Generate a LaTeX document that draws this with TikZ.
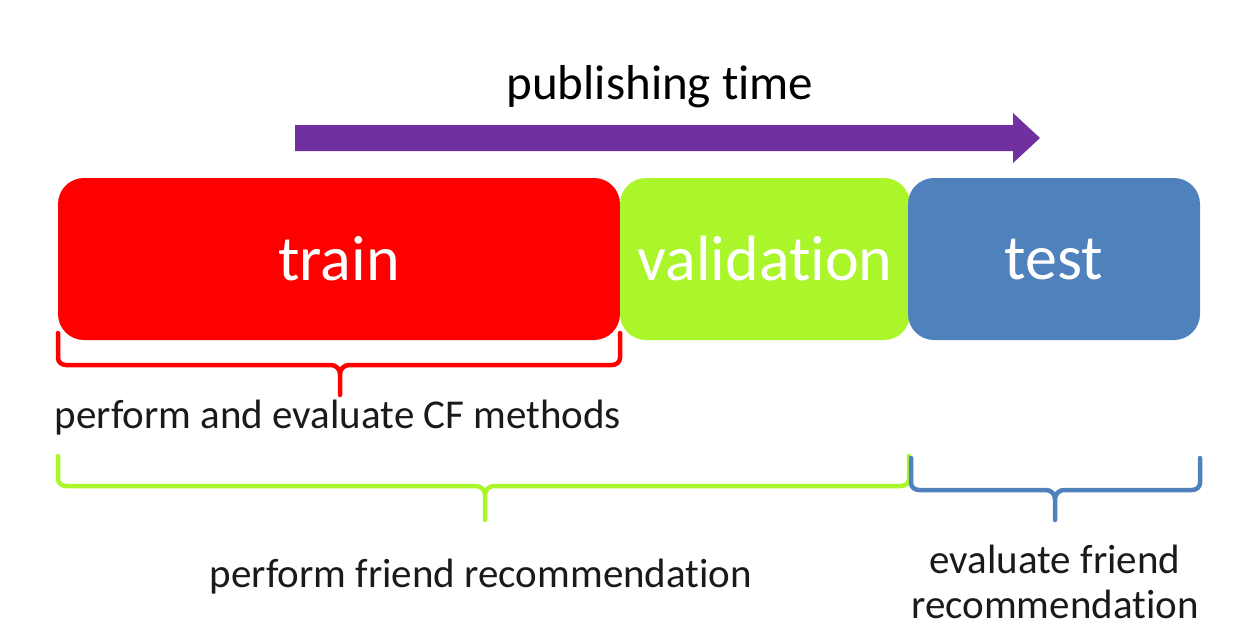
\documentclass[tikz,border=0pt]{standalone}
\usepackage{fontspec}
\setmainfont[Ligatures=NoCommon]{Carlito}
\definecolor{trainred}{HTML}{FF0000}
\definecolor{valgreen}{HTML}{ABF52B}
\definecolor{testblue}{HTML}{4F81BD}
\definecolor{timepurple}{HTML}{7030A0}
\definecolor{labelink}{HTML}{1A1A1A}
\tikzset{
  phase/.style={fill=#1, draw=none, rounded corners=26pt, minimum height=162pt,
    text=white, inner sep=0pt, font=\fontsize{64}{70}\selectfont},
  bracepath/.style={draw=#1, line width=4.5pt, line cap=round, line join=round},
  caption/.style={text=labelink, inner sep=0pt, font=\fontsize{41}{47}\selectfont, align=center}
}
% curly brace: ends at x1 and x2 rising to ytop, bar at ybar, tip at (xm, ytip)
\newcommand{\spanbrace}[7]{%
  \path[bracepath=#1]
    (#2,#5) -- (#2,#6+7) to[out=-90,in=180] (#2+8,#6) -- (#4-9,#6)
    to[out=0,in=90] (#4,#6-9) -- (#4,#7)
    (#3,#5) -- (#3,#6+7) to[out=-90,in=0] (#3-8,#6) -- (#4+9,#6)
    to[out=180,in=90] (#4,#6-9);}
\begin{document}
\begin{tikzpicture}[x=1pt,y=1pt]
\useasboundingbox (0,0) rectangle (1248,-622);

% time axis
\node[text=black, inner sep=0pt, font=\fontsize{49}{55}\selectfont] (ttl) at (660,-87) {publishing time};
\fill[timepurple] (295,-125) -- (1013,-125) -- (1013,-113) -- (1040,-138)
  -- (1013,-163) -- (1013,-151) -- (295,-151) -- cycle;

% data splits
\node[phase=trainred, minimum width=562pt] (train) at (339,-259) {train};
\node[phase=valgreen, minimum width=290pt] (val) at (765,-259) {validation};
\node[phase=testblue, minimum width=292pt] (test) at (1054,-259) {test};

% braces and what each span is used for
\spanbrace{trainred}{58}{620}{340}{-333}{-365}{-395}
\node[caption, anchor=base] (cf) at (338,-428) {perform and evaluate CF methods};

\spanbrace{valgreen}{58}{909}{485}{-456}{-486}{-520}
\spanbrace{testblue}{911}{1200}{1055}{-458}{-490}{-520}

\node[caption, anchor=base] (fr) at (481,-587) {perform friend recommendation};
\node[caption, anchor=base] (ev1) at (1055,-573) {evaluate friend};
\node[caption, anchor=base] (ev2) at (1055,-618) {recommendation};
\end{tikzpicture}
\end{document}
